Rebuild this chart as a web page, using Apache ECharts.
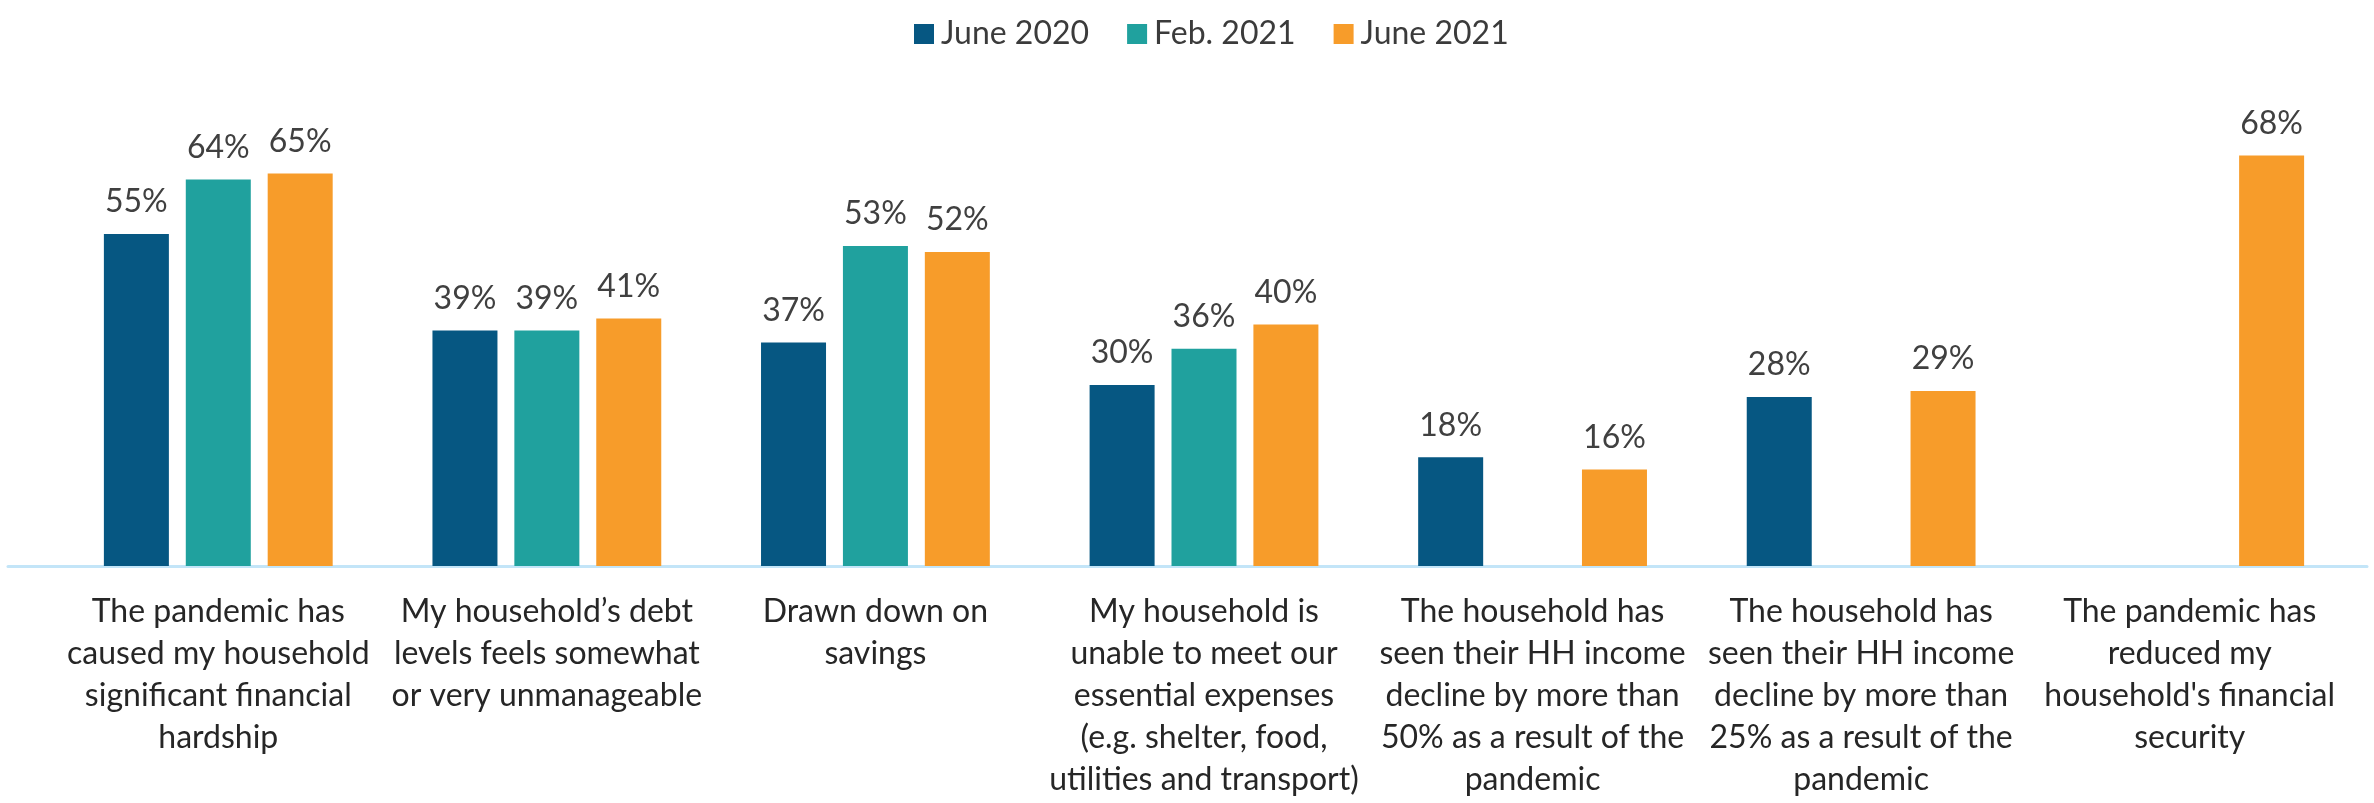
<!DOCTYPE html>
<html>
<head>
<meta charset="utf-8">
<script src="https://cdn.jsdelivr.net/npm/echarts@6/dist/echarts.min.js"></script>
<style>
html,body{margin:0;padding:0;background:#fff;}
#chart{width:2374px;height:803px;}
</style>
</head>
<body>
<div id="chart"></div>
<script>
const categories = [
  "The pandemic has\ncaused my household\nsignificant financial\nhardship",
  "My household\u2019s debt\nlevels feels somewhat\nor very unmanageable",
  "Drawn down on\nsavings",
  "My household is\nunable to meet our\nessential expenses\n(e.g. shelter, food,\nutilities and transport)",
  "The household has\nseen their HH income\ndecline by more than\n50% as a result of the\npandemic",
  "The household has\nseen their HH income\ndecline by more than\n25% as a result of the\npandemic",
  "The pandemic has\nreduced my\nhousehold's financial\nsecurity"
];
const seriesNames = ["June 2020", "Feb. 2021", "June 2021"];
const june2020 = [55, 39, 37, 30, 18, 28, null];
const feb2021  = [64, 39, 53, 36, null, null, null];
const june2021 = [65, 41, 52, 40, 16, 29, 68];
const colors = ["#065782", "#20A19E", "#F79C2A"];

const FONT = "Lato";
const chart = echarts.init(document.getElementById('chart'), null, {renderer: 'canvas'});

function barSeries(name, data, color) {
  return {
    name: name,
    type: 'bar',
    data: data,
    barWidth: 65,
    barGap: '26%',
    itemStyle: {color: color},
    label: {
      show: true,
      position: 'top',
      distance: 16,
      formatter: function (p) { return p.value + '%'; },
      color: '#404040',
      fontFamily: FONT,
      fontSize: 32
    }
  };
}

chart.setOption({
  animation: false,
  backgroundColor: '#ffffff',
  color: colors,
  legend: {
    data: seriesNames,
    top: 13,
    left: 909,
    itemWidth: 20,
    itemHeight: 20,
    itemGap: 38,
    icon: 'rect',
    textStyle: {color: '#3B3B3B', fontFamily: FONT, fontSize: 32, padding: [0, 0, 0, 2]}
  },
  grid: [
    {left: 54, right: 20, top: 83, bottom: 237, containLabel: false},
    {left: 8, right: 7, top: 565, height: 1, containLabel: false}
  ],
  xAxis: [
    {
      type: 'category',
      gridIndex: 0,
      data: categories,
      axisLine: {show: false},
      axisTick: {show: false},
      axisLabel: {
        interval: 0,
        margin: 25,
        color: '#262626',
        fontFamily: FONT,
        fontSize: 32,
        lineHeight: 42,
        align: 'center'
      }
    },
    {
      type: 'value',
      gridIndex: 1,
      min: 0,
      max: 1,
      position: 'bottom',
      axisLine: {show: true, lineStyle: {color: '#C3E5F8', width: 3}},
      axisTick: {show: false},
      axisLabel: {show: false},
      splitLine: {show: false}
    }
  ],
  yAxis: [
    {type: 'value', gridIndex: 0, min: 0, max: 80, show: false, splitLine: {show: false}},
    {type: 'value', gridIndex: 1, min: 0, max: 1, show: false, splitLine: {show: false}}
  ],
  series: [
    barSeries(seriesNames[0], june2020, colors[0]),
    barSeries(seriesNames[1], feb2021, colors[1]),
    barSeries(seriesNames[2], june2021, colors[2])
  ]
});
</script>
</body>
</html>
